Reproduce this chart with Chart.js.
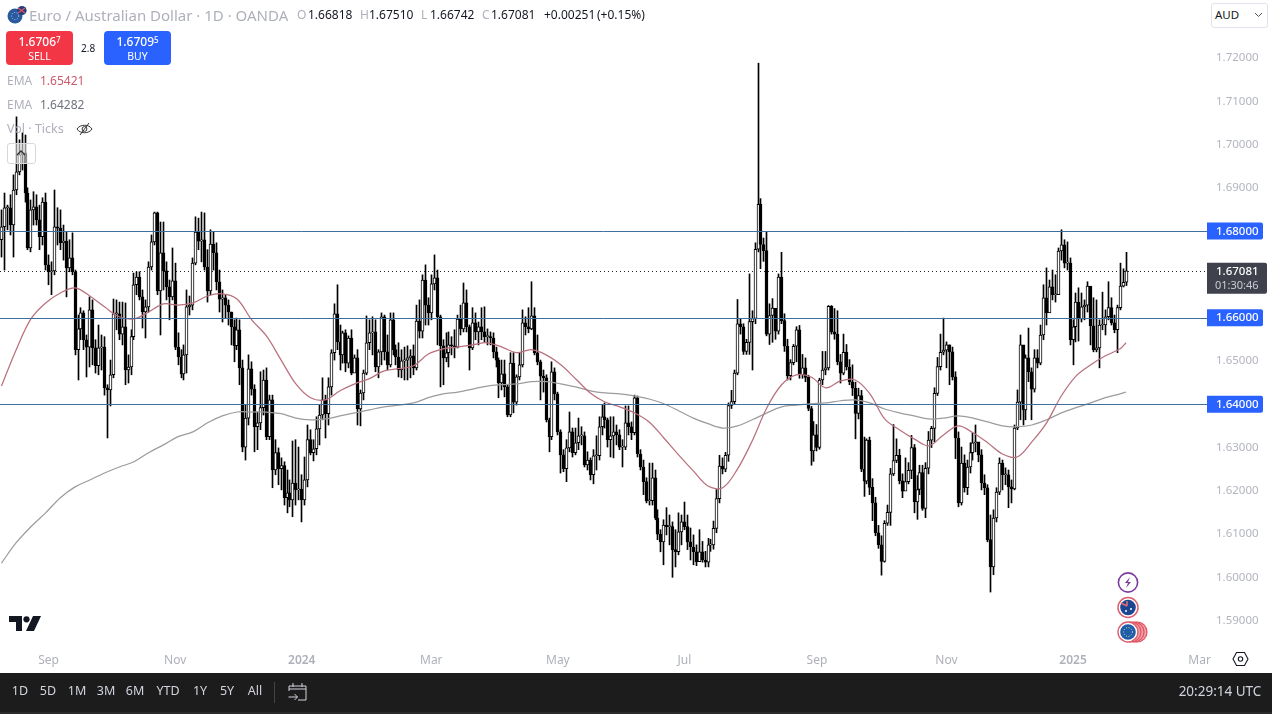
<!DOCTYPE html>
<html><head><meta charset="utf-8">
<style>
html,body{margin:0;padding:0;background:#fff;width:1272px;height:714px;overflow:hidden;font-family:"Noto Sans",sans-serif}
#wrap{position:relative;width:1272px;height:714px;overflow:hidden}
canvas{position:absolute;left:0;top:0}
.t{position:absolute;white-space:nowrap;line-height:1}
.box{position:absolute;border-radius:4px;color:#fff;text-align:center}
#bar{position:absolute;left:0;top:673px;width:1272px;height:39px;background:#1c1c1c}
#bar span{position:absolute;top:12px;color:#d1d4dc;font-size:12.5px;line-height:1;transform:translateX(-50%);white-space:nowrap}
sup{font-size:8px;vertical-align:3px;line-height:0}
svg{position:absolute}
</style></head><body><div id="wrap">
<canvas id="c" width="1272" height="673"></canvas>

<svg style="left:7px;top:5px" width="20" height="20" viewBox="0 0 20 20"><circle cx="8" cy="11" r="7.5" fill="#2a5a9e"/><circle cx="15" cy="5.5" r="4.6" fill="#243e7a"/><path d="M11 3l7 5M18 3l-7 5" stroke="#e0556a" stroke-width="1.2"/><circle cx="8" cy="11" r="3.6" fill="none" stroke="#cdd9ee" stroke-width=".9" stroke-dasharray="1 1.6"/></svg>
<div class="t" style="left:29px;top:8px;font-size:15px;color:#aeb1ba">Euro / Australian Dollar · 1D · OANDA</div>
<div class="t" style="left:297px;top:9px;font-size:12px;color:#aeb1ba">O</div><div class="t" style="left:308px;top:9px;font-size:12px;color:#131722">1.66818</div>
<div class="t" style="left:360px;top:9px;font-size:12px;color:#aeb1ba">H</div><div class="t" style="left:369px;top:9px;font-size:12px;color:#131722">1.67510</div>
<div class="t" style="left:421px;top:9px;font-size:12px;color:#aeb1ba">L</div><div class="t" style="left:430px;top:9px;font-size:12px;color:#131722">1.66742</div>
<div class="t" style="left:482px;top:9px;font-size:12px;color:#aeb1ba">C</div><div class="t" style="left:491px;top:9px;font-size:12px;color:#131722">1.67081</div>
<div class="t" style="left:544px;top:9px;font-size:12px;color:#131722">+0.00251</div>
<div class="t" style="left:597px;top:9px;font-size:12px;color:#131722">(+0.15%)</div>

<div class="box" style="left:6px;top:31px;width:67px;height:34px;background:#f23645"><div class="t" style="left:0;right:0;top:5px;font-size:12px;font-weight:500">1.6706<sup>7</sup></div><div class="t" style="left:0;right:0;top:20px;font-size:10.5px">SELL</div></div>
<div class="t" style="left:81px;top:43px;font-size:10px;color:#131722">2.8</div>
<div class="box" style="left:104px;top:31px;width:67px;height:34px;background:#2962ff"><div class="t" style="left:0;right:0;top:5px;font-size:12px;font-weight:500">1.6709<sup>5</sup></div><div class="t" style="left:0;right:0;top:20px;font-size:10.5px">BUY</div></div>

<div class="t" style="left:7px;top:75px;font-size:12px;color:#aeb1ba">EMA</div><div class="t" style="left:40px;top:75px;font-size:12px;color:#cc5a6a">1.65421</div>
<div class="t" style="left:7px;top:99px;font-size:12px;color:#aeb1ba">EMA</div><div class="t" style="left:40px;top:99px;font-size:12px;color:#6f7280">1.64282</div>
<div class="t" style="left:7px;top:123px;font-size:12.5px;color:#aeb1ba">Vol · Ticks</div>
<svg style="left:76px;top:121px" width="17" height="16" viewBox="0 0 17 16"><path d="M1 8c3-5 12-5 15 0c-3 5-12 5-15 0z" fill="none" stroke="#333" stroke-width="1"/><circle cx="8.5" cy="8" r="2.4" fill="none" stroke="#333"/><path d="M13 2L4 14" stroke="#333"/></svg>
<div style="position:absolute;left:7px;top:143px;width:27px;height:19px;border:1px solid #d6d8dd;border-radius:3px;background:rgba(255,255,255,.55)"></div>
<svg style="left:15px;top:149px" width="12" height="8" viewBox="0 0 12 8"><path d="M2 6l4-4 4 4" fill="none" stroke="#333" stroke-width="1.3"/></svg>

<div style="position:absolute;left:1211px;top:3px;width:55px;height:23px;border:1px solid #e0e3eb;border-radius:3px;background:#fff"></div>
<div class="t" style="left:1215px;top:9px;font-size:11.5px;color:#131722">AUD</div>
<svg style="left:1254px;top:12px" width="9" height="6" viewBox="0 0 9 6"><path d="M1 1l3.5 3.5L8 1" fill="none" stroke="#555" stroke-width="1"/></svg>

<svg style="left:9px;top:616px" width="33" height="16" viewBox="0 0 33 16"><path d="M0 0h13v15H7V6H0z" fill="#131722"/><circle cx="17.5" cy="3.3" r="3.1" fill="#131722"/><path d="M24 0h8l-7 15h-8z" fill="#131722"/></svg>

<svg style="left:1116px;top:571px" width="24" height="24" viewBox="0 0 24 24"><circle cx="12" cy="11.5" r="9.6" fill="#fff" stroke="#7b3a9e" stroke-width="1.6"/><path d="M14 6l-5 6h3l-2 5 5-6h-3z" fill="#7b3a9e"/></svg>
<svg style="left:1116px;top:596px" width="24" height="24" viewBox="0 0 24 24"><circle cx="12" cy="11.5" r="10" fill="#fff" stroke="#d9606e" stroke-width="1.5"/><circle cx="12" cy="11.5" r="7.8" fill="#1d4690"/><path d="M5 7l6 3M11 5v5" stroke="#e06a78" stroke-width="1.6"/><circle cx="15" cy="13" r="1" fill="#fff"/><circle cx="10" cy="15" r="1" fill="#fff"/></svg>
<svg style="left:1116px;top:620px" width="34" height="24" viewBox="0 0 34 24"><circle cx="21" cy="12" r="10" fill="#f2a0a8" stroke="#e0525f" stroke-width="1.2"/><circle cx="18" cy="12" r="10" fill="#f2a0a8" stroke="#e0525f" stroke-width="1.2"/><circle cx="15" cy="12" r="10" fill="#f2a0a8" stroke="#e0525f" stroke-width="1.2"/><circle cx="12" cy="12" r="10" fill="#fff" stroke="#d9606e" stroke-width="1.4"/><circle cx="12" cy="12" r="7.8" fill="#1f5da8"/><circle cx="12" cy="12" r="4.4" fill="none" stroke="#e8e6a0" stroke-width="1" stroke-dasharray="1 1.6"/></svg>

<svg style="left:1232px;top:651px" width="17" height="16" viewBox="0 0 17 16"><path d="M4.5 1.5h8l3.5 6.5-3.5 6.5h-8L1 8z" fill="none" stroke="#131722" stroke-width="1.1"/><circle cx="8.5" cy="8" r="2.2" fill="none" stroke="#131722" stroke-width="1.1"/></svg>

<div id="bar">
<span style="left:20px">1D</span><span style="left:48px">5D</span><span style="left:77px">1M</span><span style="left:106px">3M</span><span style="left:135px">6M</span><span style="left:168px">YTD</span><span style="left:200px">1Y</span><span style="left:227px">5Y</span><span style="left:255px">All</span>
<div style="position:absolute;left:274px;top:9px;width:1px;height:21px;background:#444"></div>
<svg style="left:288px;top:9px" width="19" height="20" viewBox="0 0 19 20"><path d="M1 9V4h17v14h-8M1 7h17M5 1v4M14 1v4M0.5 15h9M6.5 12l3 3-3 3" fill="none" stroke="#d1d4dc" stroke-width="1"/></svg>
<span style="left:1220px;top:12px;font-size:13.5px">20:29:14 UTC</span>
</div>
<div style="position:absolute;left:0;top:712px;width:1272px;height:2px;background:#2a2a2a"></div>
</div>

<script src="https://cdn.jsdelivr.net/npm/chart.js@4/dist/chart.umd.js"></script>
<script>
const opens=[1.6780,1.6810,1.6854,1.6854,1.6814,1.6895,1.6937,1.6976,1.6981,1.6888,
1.6761,1.6849,1.6856,1.6826,1.6787,1.6867,1.6722,1.6706,1.6708,1.6810,
1.6807,1.6773,1.6777,1.6715,1.6738,1.6706,1.6526,1.6574,1.6611,1.6549,
1.6532,1.6618,1.6530,1.6489,1.6530,1.6532,1.6438,1.6433,1.6468,1.6609,
1.6609,1.6562,1.6579,1.6479,1.6486,1.6556,1.6676,1.6694,1.6648,1.6613,
1.6625,1.6717,1.6775,1.6842,1.6662,1.6750,1.6708,1.6671,1.6648,1.6685,
1.6532,1.6509,1.6470,1.6514,1.6625,1.6629,1.6726,1.6798,1.6777,1.6780,
1.6717,1.6662,1.6770,1.6750,1.6683,1.6643,1.6646,1.6629,1.6613,1.6579,
1.6535,1.6572,1.6484,1.6301,1.6368,1.6482,1.6435,1.6348,1.6357,1.6392,
1.6456,1.6325,1.6410,1.6248,1.6288,1.6251,1.6258,1.6184,1.6195,1.6179,
1.6218,1.6202,1.6204,1.6179,1.6225,1.6318,1.6288,1.6297,1.6343,1.6375,
1.6410,1.6378,1.6440,1.6519,1.6609,1.6544,1.6514,1.6565,1.6495,1.6553,
1.6472,1.6507,1.6389,1.6426,1.6472,1.6542,1.6565,1.6567,1.6486,1.6521,
1.6602,1.6521,1.6491,1.6595,1.6526,1.6509,1.6479,1.6500,1.6502,1.6507,
1.6512,1.6484,1.6592,1.6569,1.6687,1.6629,1.6611,1.6678,1.6692,1.6602,
1.6535,1.6507,1.6519,1.6537,1.6535,1.6532,1.6597,1.6574,1.6634,1.6579,
1.6530,1.6588,1.6567,1.6579,1.6567,1.6556,1.6556,1.6553,1.6521,1.6502,
1.6449,1.6470,1.6440,1.6375,1.6495,1.6405,1.6463,1.6491,1.6588,1.6579,
1.6574,1.6604,1.6519,1.6498,1.6465,1.6461,1.6364,1.6325,1.6475,1.6424,
1.6336,1.6283,1.6251,1.6299,1.6336,1.6288,1.6311,1.6327,1.6327,1.6260,
1.6271,1.6237,1.6281,1.6281,1.6348,1.6371,1.6364,1.6318,1.6327,1.6336,
1.6329,1.6301,1.6301,1.6357,1.6348,1.6334,1.6415,1.6285,1.6255,1.6221,
1.6177,1.6177,1.6230,1.6137,1.6100,1.6082,1.6121,1.6117,1.6117,1.6064,
1.6059,1.6105,1.6128,1.6117,1.6082,1.6070,1.6059,1.6036,1.6059,1.6040,
1.6035,1.6075,1.6075,1.6113,1.6182,1.6257,1.6250,1.6282,1.6397,1.6406,
1.6472,1.6586,1.6579,1.6522,1.6543,1.6591,1.6598,1.6758,1.6862,1.6769,
1.6755,1.6562,1.6605,1.6622,1.6569,1.6694,1.6593,1.6534,1.6466,1.6496,
1.6534,1.6572,1.6468,1.6484,1.6462,1.6390,1.6292,1.6329,1.6300,1.6456,
1.6479,1.6484,1.6626,1.6567,1.6562,1.6498,1.6472,1.6520,1.6486,1.6452,
1.6437,1.6379,1.6420,1.6250,1.6222,1.6317,1.6208,1.6172,1.6103,1.6075,
1.6037,1.6125,1.6150,1.6239,1.6270,1.6282,1.6223,1.6199,1.6221,1.6247,
1.6300,1.6174,1.6203,1.6242,1.6159,1.6252,1.6317,1.6344,1.6425,1.6487,
1.6520,1.6525,1.6537,1.6521,1.6463,1.6322,1.6172,1.6264,1.6207,1.6255,
1.6288,1.6311,1.6313,1.6283,1.6218,1.6207,1.6087,1.6024,1.6137,1.6197,
1.6264,1.6237,1.6237,1.6209,1.6204,1.6345,1.6405,1.6537,1.6387,1.6507,
1.6475,1.6435,1.6507,1.6495,1.6560,1.6646,1.6611,1.6671,1.6653,1.6653,
1.6754,1.6768,1.6726,1.6726,1.6549,1.6579,1.6636,1.6597,1.6625,1.6629,
1.6673,1.6581,1.6526,1.6530,1.6583,1.6583,1.6602,1.6623,1.6588,1.6572,
1.6623,1.6673,1.66818];
const closes=[1.6810,1.6854,1.6854,1.6814,1.6895,1.6937,1.6976,1.6981,1.6888,1.6761,
1.6849,1.6856,1.6826,1.6787,1.6867,1.6722,1.6706,1.6708,1.6810,1.6807,
1.6773,1.6777,1.6715,1.6738,1.6706,1.6526,1.6574,1.6611,1.6549,1.6532,
1.6618,1.6530,1.6489,1.6530,1.6532,1.6438,1.6433,1.6468,1.6609,1.6609,
1.6562,1.6579,1.6479,1.6486,1.6556,1.6676,1.6694,1.6648,1.6613,1.6625,
1.6717,1.6775,1.6842,1.6662,1.6750,1.6708,1.6671,1.6648,1.6685,1.6532,
1.6509,1.6470,1.6514,1.6625,1.6629,1.6726,1.6798,1.6777,1.6780,1.6717,
1.6662,1.6770,1.6750,1.6683,1.6643,1.6646,1.6629,1.6613,1.6579,1.6535,
1.6572,1.6484,1.6301,1.6368,1.6482,1.6435,1.6348,1.6357,1.6392,1.6456,
1.6325,1.6410,1.6248,1.6288,1.6251,1.6258,1.6184,1.6195,1.6179,1.6218,
1.6202,1.6204,1.6179,1.6225,1.6318,1.6288,1.6297,1.6343,1.6375,1.6410,
1.6378,1.6440,1.6519,1.6609,1.6544,1.6514,1.6565,1.6495,1.6553,1.6472,
1.6507,1.6389,1.6426,1.6472,1.6542,1.6565,1.6567,1.6486,1.6521,1.6602,
1.6521,1.6491,1.6595,1.6526,1.6509,1.6479,1.6500,1.6502,1.6507,1.6512,
1.6484,1.6592,1.6569,1.6687,1.6629,1.6611,1.6678,1.6692,1.6602,1.6535,
1.6507,1.6519,1.6537,1.6535,1.6532,1.6597,1.6574,1.6634,1.6579,1.6530,
1.6588,1.6567,1.6579,1.6567,1.6556,1.6556,1.6553,1.6521,1.6502,1.6449,
1.6470,1.6440,1.6375,1.6495,1.6405,1.6463,1.6491,1.6588,1.6579,1.6574,
1.6604,1.6519,1.6498,1.6465,1.6461,1.6364,1.6325,1.6475,1.6424,1.6336,
1.6283,1.6251,1.6299,1.6336,1.6288,1.6311,1.6327,1.6327,1.6260,1.6271,
1.6237,1.6281,1.6281,1.6348,1.6371,1.6364,1.6318,1.6327,1.6336,1.6329,
1.6301,1.6301,1.6357,1.6348,1.6334,1.6415,1.6285,1.6255,1.6221,1.6177,
1.6177,1.6230,1.6137,1.6100,1.6082,1.6121,1.6117,1.6117,1.6064,1.6059,
1.6105,1.6128,1.6117,1.6082,1.6070,1.6059,1.6036,1.6059,1.6040,1.6035,
1.6075,1.6075,1.6113,1.6182,1.6257,1.6250,1.6282,1.6397,1.6406,1.6472,
1.6586,1.6579,1.6522,1.6543,1.6591,1.6598,1.6758,1.6862,1.6769,1.6755,
1.6562,1.6605,1.6622,1.6569,1.6694,1.6593,1.6534,1.6466,1.6496,1.6534,
1.6572,1.6468,1.6484,1.6462,1.6390,1.6292,1.6329,1.6300,1.6456,1.6479,
1.6484,1.6626,1.6567,1.6562,1.6498,1.6472,1.6520,1.6486,1.6452,1.6437,
1.6379,1.6420,1.6250,1.6222,1.6317,1.6208,1.6172,1.6103,1.6075,1.6037,
1.6125,1.6150,1.6239,1.6270,1.6282,1.6223,1.6199,1.6221,1.6247,1.6300,
1.6174,1.6203,1.6242,1.6159,1.6252,1.6317,1.6344,1.6425,1.6487,1.6520,
1.6525,1.6537,1.6521,1.6463,1.6322,1.6172,1.6264,1.6207,1.6255,1.6288,
1.6311,1.6313,1.6283,1.6218,1.6207,1.6087,1.6024,1.6137,1.6197,1.6264,
1.6237,1.6237,1.6209,1.6204,1.6345,1.6405,1.6537,1.6387,1.6507,1.6475,
1.6435,1.6507,1.6495,1.6560,1.6646,1.6611,1.6671,1.6653,1.6653,1.6754,
1.6768,1.6726,1.6726,1.6549,1.6579,1.6636,1.6597,1.6625,1.6629,1.6673,
1.6581,1.6526,1.6530,1.6583,1.6583,1.6602,1.6623,1.6588,1.6572,1.6623,
1.6673,1.66818,1.67081];
const highs=[1.6849,1.6888,1.6860,1.6884,1.6930,1.7064,1.7011,1.7027,1.7022,1.6900,
1.6872,1.6891,1.6884,1.6860,1.6877,1.6888,1.6745,1.6729,1.6895,1.6854,
1.6849,1.6814,1.6798,1.6780,1.6796,1.6710,1.6606,1.6623,1.6616,1.6560,
1.6648,1.6641,1.6549,1.6583,1.6560,1.6556,1.6445,1.6502,1.6643,1.6641,
1.6636,1.6636,1.6634,1.6514,1.6572,1.6703,1.6706,1.6706,1.6664,1.6641,
1.6729,1.6791,1.6844,1.6844,1.6821,1.6821,1.6729,1.6687,1.6761,1.6726,
1.6565,1.6526,1.6537,1.6664,1.6650,1.6738,1.6833,1.6830,1.6844,1.6842,
1.6757,1.6803,1.6798,1.6773,1.6710,1.6664,1.6653,1.6641,1.6613,1.6595,
1.6599,1.6595,1.6502,1.6398,1.6514,1.6498,1.6445,1.6382,1.6475,1.6479,
1.6484,1.6421,1.6421,1.6318,1.6299,1.6276,1.6267,1.6248,1.6225,1.6315,
1.6318,1.6301,1.6237,1.6278,1.6352,1.6341,1.6318,1.6371,1.6398,1.6461,
1.6421,1.6461,1.6526,1.6632,1.6676,1.6583,1.6569,1.6572,1.6558,1.6572,
1.6514,1.6526,1.6433,1.6479,1.6604,1.6595,1.6602,1.6595,1.6526,1.6611,
1.6606,1.6560,1.6611,1.6611,1.6537,1.6542,1.6526,1.6532,1.6535,1.6526,
1.6537,1.6629,1.6641,1.6699,1.6722,1.6646,1.6699,1.6745,1.6710,1.6606,
1.6549,1.6565,1.6567,1.6556,1.6572,1.6606,1.6629,1.6680,1.6664,1.6583,
1.6623,1.6611,1.6590,1.6623,1.6625,1.6574,1.6567,1.6565,1.6532,1.6507,
1.6502,1.6502,1.6445,1.6519,1.6519,1.6468,1.6519,1.6618,1.6602,1.6623,
1.6683,1.6623,1.6560,1.6502,1.6479,1.6468,1.6368,1.6498,1.6484,1.6428,
1.6341,1.6295,1.6318,1.6382,1.6345,1.6345,1.6368,1.6348,1.6336,1.6290,
1.6276,1.6295,1.6327,1.6371,1.6398,1.6403,1.6368,1.6371,1.6371,1.6352,
1.6341,1.6318,1.6396,1.6396,1.6359,1.6421,1.6419,1.6295,1.6271,1.6230,
1.6264,1.6264,1.6248,1.6156,1.6110,1.6133,1.6161,1.6144,1.6128,1.6110,
1.6149,1.6144,1.6174,1.6144,1.6114,1.6098,1.6075,1.6110,1.6083,1.6060,
1.6090,1.6088,1.6130,1.6203,1.6282,1.6276,1.6289,1.6403,1.6432,1.6479,
1.6642,1.6598,1.6586,1.6550,1.6701,1.6616,1.6773,1.7188,1.6875,1.6784,
1.6798,1.6632,1.6644,1.6608,1.6701,1.6751,1.6609,1.6550,1.6503,1.6538,
1.6579,1.6582,1.6515,1.6507,1.6467,1.6395,1.6360,1.6353,1.6460,1.6522,
1.6522,1.6628,1.6628,1.6621,1.6616,1.6515,1.6562,1.6538,1.6503,1.6491,
1.6451,1.6437,1.6432,1.6324,1.6320,1.6324,1.6228,1.6185,1.6120,1.6096,
1.6131,1.6167,1.6252,1.6353,1.6320,1.6296,1.6239,1.6276,1.6265,1.6328,
1.6307,1.6235,1.6259,1.6259,1.6265,1.6337,1.6349,1.6438,1.6508,1.6562,
1.6599,1.6544,1.6537,1.6532,1.6475,1.6336,1.6301,1.6283,1.6271,1.6311,
1.6334,1.6352,1.6306,1.6295,1.6237,1.6214,1.6144,1.6156,1.6207,1.6276,
1.6271,1.6253,1.6248,1.6225,1.6352,1.6433,1.6560,1.6526,1.6514,1.6576,
1.6484,1.6526,1.6526,1.6583,1.6676,1.6715,1.6687,1.6710,1.6699,1.6761,
1.6803,1.6780,1.6775,1.6738,1.6595,1.6657,1.6669,1.6657,1.6641,1.6683,
1.6671,1.6646,1.6641,1.6595,1.6659,1.6618,1.6683,1.6646,1.6606,1.6629,
1.6726,1.6713,1.67510];
const lows=[1.6740,1.6710,1.6803,1.6791,1.6740,1.6884,1.6930,1.6941,1.6867,1.6757,
1.6752,1.6814,1.6814,1.6757,1.6768,1.6710,1.6676,1.6653,1.6699,1.6768,
1.6757,1.6733,1.6648,1.6706,1.6699,1.6514,1.6456,1.6549,1.6526,1.6463,
1.6486,1.6491,1.6472,1.6468,1.6479,1.6421,1.6322,1.6396,1.6461,1.6572,
1.6549,1.6537,1.6445,1.6449,1.6468,1.6549,1.6653,1.6641,1.6576,1.6553,
1.6613,1.6710,1.6768,1.6653,1.6560,1.6664,1.6641,1.6595,1.6641,1.6526,
1.6491,1.6461,1.6456,1.6472,1.6606,1.6618,1.6722,1.6757,1.6729,1.6710,
1.6636,1.6653,1.6710,1.6664,1.6613,1.6590,1.6599,1.6583,1.6537,1.6498,
1.6526,1.6445,1.6290,1.6271,1.6352,1.6421,1.6290,1.6295,1.6341,1.6375,
1.6318,1.6318,1.6207,1.6237,1.6214,1.6202,1.6167,1.6149,1.6163,1.6140,
1.6167,1.6179,1.6128,1.6167,1.6209,1.6283,1.6269,1.6283,1.6306,1.6364,
1.6322,1.6352,1.6421,1.6502,1.6526,1.6479,1.6495,1.6475,1.6484,1.6468,
1.6475,1.6352,1.6350,1.6410,1.6468,1.6526,1.6514,1.6475,1.6461,1.6491,
1.6502,1.6479,1.6486,1.6514,1.6491,1.6463,1.6461,1.6456,1.6456,1.6461,
1.6468,1.6479,1.6553,1.6553,1.6583,1.6583,1.6595,1.6664,1.6537,1.6440,
1.6445,1.6498,1.6486,1.6514,1.6507,1.6530,1.6560,1.6567,1.6567,1.6479,
1.6526,1.6549,1.6537,1.6549,1.6544,1.6537,1.6537,1.6507,1.6486,1.6415,
1.6433,1.6417,1.6371,1.6371,1.6380,1.6398,1.6456,1.6486,1.6560,1.6565,
1.6572,1.6514,1.6491,1.6410,1.6428,1.6359,1.6290,1.6318,1.6410,1.6329,
1.6241,1.6244,1.6221,1.6290,1.6278,1.6283,1.6295,1.6306,1.6255,1.6248,
1.6225,1.6216,1.6248,1.6271,1.6329,1.6345,1.6301,1.6278,1.6276,1.6306,
1.6295,1.6255,1.6295,1.6329,1.6318,1.6329,1.6278,1.6248,1.6191,1.6172,
1.6167,1.6167,1.6133,1.6087,1.6059,1.6029,1.6098,1.6075,1.6000,1.6024,
1.6052,1.6075,1.6110,1.6064,1.6040,1.6029,1.6027,1.6040,1.6035,1.6024,
1.6024,1.6060,1.6065,1.6103,1.6172,1.6239,1.6244,1.6268,1.6390,1.6401,
1.6468,1.6562,1.6515,1.6515,1.6515,1.6479,1.6586,1.6752,1.6713,1.6730,
1.6558,1.6538,1.6543,1.6550,1.6562,1.6586,1.6522,1.6456,1.6456,1.6491,
1.6498,1.6460,1.6460,1.6452,1.6385,1.6259,1.6268,1.6292,1.6296,1.6445,
1.6468,1.6479,1.6562,1.6550,1.6491,1.6449,1.6468,1.6479,1.6445,1.6420,
1.6320,1.6366,1.6244,1.6187,1.6216,1.6191,1.6131,1.6096,1.6067,1.6005,
1.6035,1.6120,1.6120,1.6235,1.6265,1.6216,1.6184,1.6203,1.6216,1.6228,
1.6149,1.6134,1.6191,1.6155,1.6138,1.6239,1.6300,1.6313,1.6420,1.6479,
1.6514,1.6484,1.6445,1.6456,1.6274,1.6163,1.6167,1.6197,1.6191,1.6241,
1.6271,1.6290,1.6267,1.6202,1.6191,1.6082,1.5966,1.6006,1.6128,1.6191,
1.6202,1.6214,1.6161,1.6172,1.6202,1.6341,1.6364,1.6352,1.6364,1.6452,
1.6364,1.6428,1.6484,1.6491,1.6549,1.6583,1.6613,1.6641,1.6636,1.6683,
1.6733,1.6715,1.6710,1.6537,1.6491,1.6544,1.6546,1.6590,1.6595,1.6613,
1.6537,1.6521,1.6521,1.6484,1.6572,1.6560,1.6595,1.6583,1.6565,1.6519,
1.6618,1.6671,1.66742];
const emaFast=[1.6442,1.6526,1.6597,1.6634,1.6657,1.6669,1.6650,1.6625,1.6602,1.6597,
1.6613,1.6632,1.6629,1.6634,1.6650,1.6655,1.6643,1.6595,1.6558,1.6502,
1.6447,1.6415,1.6410,1.6431,1.6447,1.6459,1.6477,1.6482,1.6489,1.6516,
1.6528,1.6532,1.6537,1.6542,1.6532,1.6519,1.6526,1.6514,1.6491,1.6459,
1.6426,1.6405,1.6394,1.6380,1.6359,1.6322,1.6283,1.6246,1.6211,1.6207,
1.6250,1.6315,1.6392,1.6445,1.6468,1.6463,1.6438,1.6454,1.6456,1.6424,
1.6366,1.6341,1.6320,1.6304,1.6329,1.6350,1.6334,1.6311,1.6285,1.6278,
1.6313,1.6357,1.6419,1.6465,1.6491,1.6512,1.6528,1.65421];
const emaSlow=[1.6033,1.6080,1.6117,1.6149,1.6184,1.6209,1.6225,1.6241,1.6255,1.6267,
1.6288,1.6306,1.6325,1.6336,1.6357,1.6373,1.6382,1.6382,1.6382,1.6378,
1.6368,1.6364,1.6366,1.6373,1.6380,1.6387,1.6394,1.6398,1.6403,1.6415,
1.6424,1.6428,1.6435,1.6442,1.6445,1.6447,1.6452,1.6452,1.6447,1.6440,
1.6431,1.6426,1.6424,1.6419,1.6412,1.6401,1.6385,1.6368,1.6355,1.6345,
1.6350,1.6364,1.6380,1.6394,1.6398,1.6401,1.6403,1.6408,1.6410,1.6403,
1.6389,1.6380,1.6373,1.6366,1.6368,1.6373,1.6368,1.6359,1.6350,1.6348,
1.6352,1.6364,1.6380,1.6392,1.6403,1.6415,1.6424,1.64282];
const levels=[1.68,1.66,1.64];
const lastPrice=1.67081;
const countdown="01:30:46";
const xTickDates=["2023-09-01","2023-11-01","2024-01-01","2024-03-01","2024-05-01","2024-07-01","2024-09-02","2024-11-01","2025-01-01","2025-03-03"];
const xTickTexts=["Sep","Nov","2024","Mar","May","Jul","Sep","Nov","2025","Mar"];
const yTickTop=1.72;
const firstDay="2023-08-10";
const slotCount=410;
const emaEvery=5;

const categories=[];
for(let d=new Date(firstDay+"T00:00:00Z");categories.length<slotCount;d=new Date(d.getTime()+864e5)){
  const w=d.getUTCDay(); if(w!==0&&w!==6) categories.push(d.toISOString().slice(0,10));
}
const isUp=i=>closes[i]>=opens[i];
const emaPts=arr=>arr.map((v,k)=>({x:categories[Math.min(k*emaEvery,closes.length-1)],y:v}));
const FONT='"Noto Sans",sans-serif';

const overlay={
  id:'overlay',
  beforeDatasetsDraw(ch){
    const c=ch.ctx,y=ch.scales.y,a=ch.chartArea;
    ch.data.datasets.forEach((ds,i)=>{
      if(ds.type==='bar') ch.getDatasetMeta(i).data.forEach(el=>{el.x=Math.floor(el.x)+0.5;});
    });
    c.save();
    c.lineWidth=1;
    const ly=Math.round(y.getPixelForValue(lastPrice))+.5;
    c.strokeStyle='#222';c.setLineDash([1,3]);
    c.beginPath();c.moveTo(a.left,ly);c.lineTo(a.right,ly);c.stroke();
    c.setLineDash([]);
    c.restore();
  },
  afterDatasetsDraw(ch){
    const c=ch.ctx,y=ch.scales.y,a=ch.chartArea;
    c.save();
    c.lineWidth=1;c.strokeStyle='#3f6d9e';
    levels.forEach(v=>{const p=Math.round(y.getPixelForValue(v))+.5;c.beginPath();c.moveTo(a.left,p);c.lineTo(a.right,p);c.stroke();});
    c.textBaseline='middle';c.textAlign='left';
    levels.forEach(v=>{
      const p=y.getPixelForValue(v);
      c.fillStyle='#2962ff';c.beginPath();c.roundRect(a.right,p-8.5,56,17,[0,2,2,0]);c.fill();
      c.fillStyle='#fff';c.font='500 11.5px '+FONT;c.fillText(v.toFixed(5),a.right+9,p+.5);
    });
    const p=y.getPixelForValue(lastPrice);
    c.fillStyle='#3f424c';c.beginPath();c.roundRect(a.right,p-8,60,31,[0,2,2,0]);c.fill();
    c.fillStyle='#fff';c.font='500 11.5px '+FONT;c.fillText(lastPrice.toFixed(5),a.right+9,p+1);
    c.fillStyle='#c9ccd4';c.font='11px '+FONT;c.fillText(countdown,a.right+8,p+15);
    c.restore();
  }
};

new Chart(document.getElementById('c'),{
  data:{labels:categories,datasets:[
    {type:'line',data:emaPts(emaFast),borderColor:'#b9707d',borderWidth:1.25,pointRadius:0,tension:.35,order:1},
    {type:'line',data:emaPts(emaSlow),borderColor:'#9c9c9f',borderWidth:1.25,pointRadius:0,tension:.35,order:1},
    {type:'bar',data:opens.map((o,i)=>[o,closes[i]]),barThickness:3,minBarLength:1,grouped:false,borderSkipped:false,borderWidth:1,borderColor:'#000',
      backgroundColor:c=>isUp(c.dataIndex)?'#fff':'#000',order:2},
    {type:'bar',data:lows.map((l,i)=>[l,highs[i]]),barThickness:1,grouped:false,borderWidth:0,backgroundColor:'#000',order:3}
  ]},
  options:{
    responsive:false,animation:false,events:[],devicePixelRatio:1,
    layout:{padding:0},
    plugins:{legend:{display:false},tooltip:{enabled:false}},
    scales:{
      x:{type:'category',grid:{display:false,drawTicks:false},border:{display:false},
        afterFit(s){s.height=26;s.paddingLeft=0;s.paddingRight=0;},
        ticks:{autoSkip:false,maxRotation:0,minRotation:0,padding:6,
          color:'#aeb1ba',
          font:c=>({family:FONT,size:12,weight:/^\d/.test(String(c.tick&&c.tick.label))?'600':'400'}),
          callback(v){const k=xTickDates.indexOf(categories[v]);return k<0?null:xTickTexts[k];}}},
      y:{type:'linear',position:'right',min:1.5839,max:1.7334,grid:{display:false,drawTicks:false},border:{display:false},
        afterFit(s){s.width=65;s.paddingTop=0;s.paddingBottom=0;},
        ticks:{stepSize:.01,includeBounds:false,padding:9,color:'#b2b5be',font:{family:FONT,size:11.5},callback:v=>v>yTickTop+1e-6?null:v.toFixed(5)}}
    }
  },
  plugins:[overlay]
});
</script>
</body></html>
